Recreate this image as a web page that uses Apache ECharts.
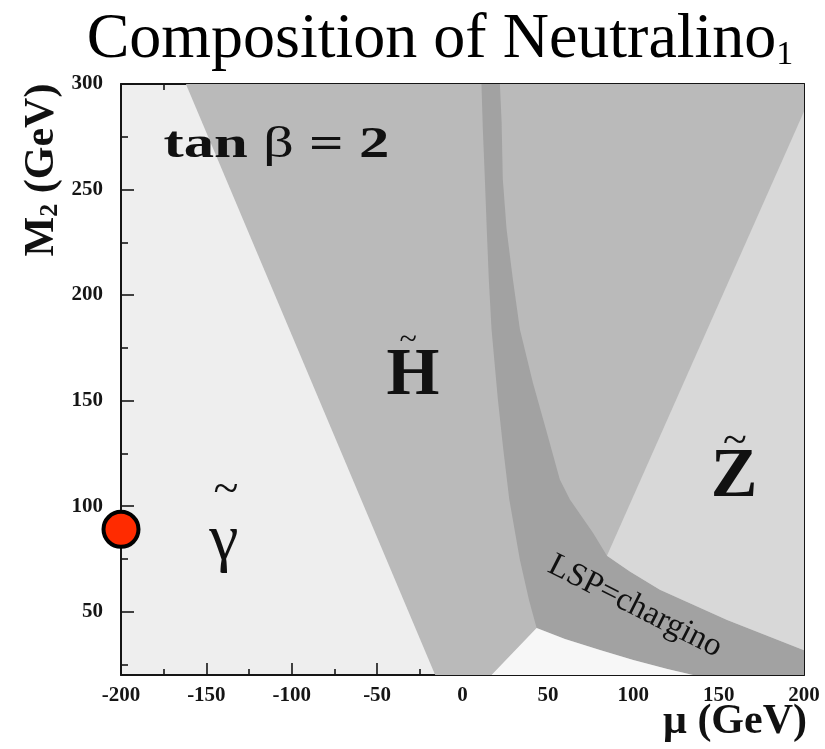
<!DOCTYPE html>
<html>
<head>
<meta charset="utf-8">
<script src="https://cdn.jsdelivr.net/npm/echarts@6/dist/echarts.min.js"></script>
<style>
  html, body { margin: 0; padding: 0; background: #ffffff; }
  #chart { width: 825px; height: 749px; }
</style>
</head>
<body>
<div id="chart"></div>
<script>
// Neutralino_1 composition in the (mu, M2) plane for tan(beta) = 2.
const SERIF = '"Liberation Serif", "Times New Roman", serif';

// axis ranges and ticks (GeV)
const muRange = [-200, 200];
const muStep = 50;
const m2Range = [20, 300];
const m2MajorTicks = [50, 100, 150, 200, 250, 300];
const m2MinorTicks = [25, 75, 125, 175, 225, 275];

// region boundaries, [mu, M2]
const photinoEdge = [[-162, 300], [-16, 20]];            // photino | higgsino
const zinoEdge = [[200, 287], [84.6, 76.5]];             // higgsino | zino
const bandLeft = [[11.1, 300], [11.9, 278.8], [13.1, 255], [14.2, 231.3], [15.4, 207.5], [17, 183.8],
                  [20.7, 150.6], [23.9, 126.8], [27.4, 103.1], [33.6, 74.6], [38.9, 55.6], [43.4, 42.3]];
const bandUpper = [[21.9, 300], [22.9, 282.1], [23.6, 255], [25.8, 231.3], [29.5, 207.5], [33.6, 183.8],
                   [41.2, 158.6], [49.4, 134.9], [57, 112.6], [62.9, 103.1], [76.4, 87.4], [84.6, 76.5],
                   [98, 69], [115.6, 60.4], [155, 46.1], [200, 31.7]];
const bandLower = [[43.4, 42.3], [60, 37.1], [80.5, 31.9], [100, 27.1], [120, 22.8], [135, 20]];
const peakLeft = [[17, 20], [43.4, 42.3]];

// reference point (M2 at mu = -200)
const markerPoint = [[-200, 89]];

// polygons built from the boundaries
const higgsinoRegion = [photinoEdge[0], [200, 300], [200, 20], photinoEdge[1]];
const bandRegion = [...bandLeft, ...bandLower.slice(1), [200, 20], ...bandUpper.slice().reverse()];
const zinoRegion = [zinoEdge[0], ...bandUpper.filter(p => p[1] <= zinoEdge[1][1])];
const peakRegion = [...peakLeft, ...bandLower.slice(1)];

const COLORS = {
  photino: '#eeeeee',
  higgsino: '#bababa',
  band: '#a2a2a2',
  zino: '#d8d8d8',
  peak: '#f7f7f7'
};

function region(name, pts, color, z) {
  return {
    type: 'custom',
    name: name,
    silent: true,
    clip: true,
    z: z,
    data: pts,
    encode: { x: 0, y: 1 },
    renderItem: function (params, api) {
      if (params.dataIndex !== 0) return null;
      return {
        type: 'polygon',
        shape: { points: pts.map(p => api.coord(p)) },
        style: { fill: color }
      };
    }
  };
}

const lineStyle = { color: '#151515', width: 2 };
const tickStyle = { color: '#151515', width: 1.6 };
const labelStyle = { fontFamily: SERIF, fontWeight: 'bold', fontSize: 21, color: '#151515' };

function muAxis(position, showLabels) {
  return {
    type: 'value', position: position, min: muRange[0], max: muRange[1], interval: muStep,
    axisLine: { show: true, onZero: false, lineStyle: lineStyle },
    axisTick: { show: true, inside: true, length: 12, lineStyle: tickStyle },
    minorTick: { show: true, splitNumber: 2, length: 6, lineStyle: tickStyle },
    axisLabel: Object.assign({ show: showLabels, margin: 10 }, labelStyle),
    splitLine: { show: false }
  };
}

function m2Axis(position, ticks, len, showLine, showLabels) {
  return {
    type: 'value', position: position, min: m2Range[0], max: m2Range[1],
    axisLine: { show: showLine, onZero: false, lineStyle: lineStyle },
    axisTick: { show: true, inside: true, length: len, customValues: ticks, lineStyle: tickStyle },
    axisLabel: Object.assign({ show: showLabels, margin: 18, customValues: ticks }, labelStyle),
    splitLine: { show: false }
  };
}

const chart = echarts.init(document.getElementById('chart'), null, { renderer: 'canvas' });

const option = {
  animation: false,
  backgroundColor: '#ffffff',
  grid: { left: 121, right: 21, top: 84, bottom: 74, show: true, backgroundColor: COLORS.photino, borderWidth: 0 },
  xAxis: [muAxis('bottom', true), muAxis('top', false)],
  yAxis: [
    m2Axis('left', m2MajorTicks, 13, true, true),
    m2Axis('left', m2MinorTicks, 7, false, false),
    m2Axis('right', m2MajorTicks, 12, true, false),
    m2Axis('right', m2MinorTicks, 12, false, false)
  ],
  series: [
    region('higgsino', higgsinoRegion, COLORS.higgsino, 1),
    region('chargino', bandRegion, COLORS.band, 2),
    region('zino', zinoRegion, COLORS.zino, 3),
    region('peak', peakRegion, COLORS.peak, 3),
    {
      type: 'scatter', name: 'marker', data: markerPoint, clip: false, z: 10,
      symbol: 'circle', symbolSize: 35,
      itemStyle: { color: '#ff2b00', borderColor: '#000000', borderWidth: 4, opacity: 1 }
    }
  ]
};
chart.setOption(option);

// text annotations placed at data positions
const px = p => chart.convertToPixel({ xAxisIndex: 0, yAxisIndex: 0 }, p);

const tanBetaAt = [-109, 271];
const higgsinoAt = [-29, 161.5];
const higgsinoTildeAt = [-31.8, 178.3];
const zinoAt = [159.1, 113.5];
const zinoTildeAt = [159.6, 130.4];
const photinoAt = [-139.8, 83.3];
const photinoTildeAt = [-138.6, 107.4];
const charginoAt = [101, 52.5];

function textAt(p, style, extra) {
  const q = px(p);
  return Object.assign({ type: 'text', x: q[0], y: q[1], z: 50,
    style: Object.assign({ align: 'center', verticalAlign: 'middle', fill: '#111111' }, style) }, extra || {});
}

chart.setOption({
  graphic: [
    // title
    {
      type: 'text', x: 440, y: 40, z: 50,
      style: {
        text: '{m|Composition of Neutralino}{s|1}',
        align: 'center', verticalAlign: 'middle',
        rich: {
          m: { fontFamily: SERIF, fontSize: 64, fill: '#000000' },
          s: { fontFamily: SERIF, fontSize: 34, fill: '#000000', verticalAlign: 'bottom' }
        }
      }
    },
    // axis titles
    {
      type: 'text', x: 807, y: 722, z: 50,
      style: { text: 'μ (GeV)', align: 'right', verticalAlign: 'middle',
        fontFamily: SERIF, fontWeight: 'bold', fontSize: 42, fill: '#111111' }
    },
    {
      type: 'text', x: 42, y: 170, rotation: Math.PI / 2, z: 50,
      style: {
        text: '{b|M}{s|2}{b| (GeV)}', align: 'center', verticalAlign: 'middle',
        rich: {
          b: { fontFamily: SERIF, fontWeight: 'bold', fontSize: 42, fill: '#111111' },
          s: { fontFamily: SERIF, fontWeight: 'bold', fontSize: 26, fill: '#111111', verticalAlign: 'bottom' }
        }
      }
    },
    // tan beta
    textAt(tanBetaAt, {
      text: '{b|tan }{g|β}{b| = 2}',
      rich: {
        b: { fontFamily: SERIF, fontWeight: 'bold', fontSize: 44, fill: '#111111' },
        g: { fontFamily: SERIF, fontSize: 44, fill: '#111111' }
      }
    }, { scaleX: 1.38 }),
    // region names
    textAt(higgsinoAt, { text: 'H', fontFamily: SERIF, fontWeight: 'bold', fontSize: 68 }),
    textAt(higgsinoTildeAt, { text: '~', fontFamily: SERIF, fontSize: 32 }),
    textAt(zinoAt, { text: 'Z', fontFamily: SERIF, fontWeight: 'bold', fontSize: 70 }),
    textAt(zinoTildeAt, { text: '~', fontFamily: SERIF, fontSize: 44 }),
    textAt(photinoAt, { text: 'γ', fontFamily: SERIF, fontSize: 66 }),
    textAt(photinoTildeAt, { text: '~', fontFamily: SERIF, fontSize: 46 }),
    textAt(charginoAt, { text: 'LSP=chargino', fontFamily: SERIF, fontSize: 33 }, { rotation: -0.47 })
  ]
});
</script>
</body>
</html>
